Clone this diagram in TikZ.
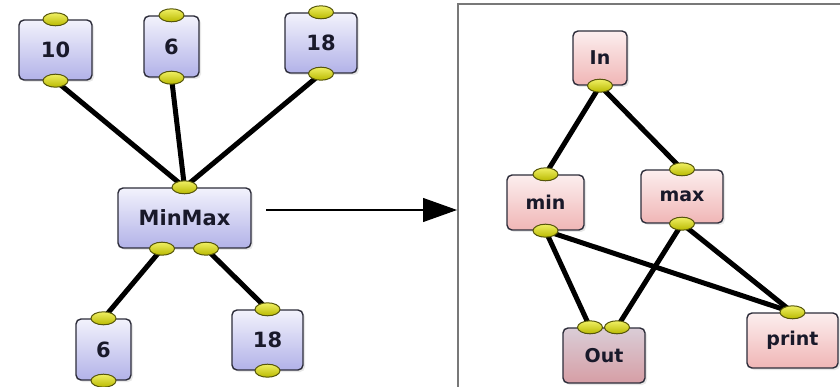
\documentclass[tikz,border=0pt]{standalone}
\usepackage{fontspec}
\setmainfont{DejaVu Sans}
\usetikzlibrary{arrows.meta,shadows,shapes.geometric}
\definecolor{boxline}{RGB}{45,45,58}
\definecolor{txt}{RGB}{25,25,42}
\definecolor{blueTop}{RGB}{242,242,252}
\definecolor{blueBot}{RGB}{178,178,232}
\definecolor{pinkTop}{RGB}{252,238,238}
\definecolor{pinkBot}{RGB}{240,182,182}
\definecolor{outTop}{RGB}{218,205,215}
\definecolor{outBot}{RGB}{214,158,165}
\definecolor{portTop}{RGB}{240,240,100}
\definecolor{portBot}{RGB}{185,185,0}
\definecolor{portLine}{RGB}{85,85,10}
\definecolor{frameGray}{RGB}{120,120,120}
\pgfdeclarelayer{bg}
\pgfdeclarelayer{edges}
\pgfsetlayers{bg,edges,main}
\tikzset{
  box/.style={rounded corners=5pt, draw=boxline, line width=1.4pt, inner sep=0pt,
    text=txt, font=\bfseries\fontsize{21}{21}\selectfont,
    drop shadow={shadow xshift=2pt, shadow yshift=-2pt, opacity=0.18, fill=gray}},
  bluebox/.style={box, top color=blueTop, bottom color=blueBot},
  pinkbox/.style={box, top color=pinkTop, bottom color=pinkBot, font=\bfseries\fontsize{19}{19}\selectfont},
  outbox/.style={box, top color=outTop, bottom color=outBot, font=\bfseries\fontsize{19}{19}\selectfont},
  port/.style={ellipse, minimum width=25pt, minimum height=13pt, inner sep=0pt,
    draw=portLine, line width=1pt, top color=portTop, bottom color=portBot},
  wire/.style={line width=5pt, black},
}
\begin{document}
\begin{tikzpicture}[x=1pt,y=-1pt]
\useasboundingbox (0,0) rectangle (840,387);
% frame
\draw[frameGray, line width=2pt] (458,388) -- (458,4) -- (841,4);
\begin{pgfonlayer}{bg}
\node[bluebox, minimum width=73pt, minimum height=60pt] (n10) at (55.5,50) {10};
\node[bluebox, minimum width=55pt, minimum height=61pt] (n6) at (171.5,46.5) {6};
\node[bluebox, minimum width=72pt, minimum height=60pt] (n18) at (321,43) {18};
\node[bluebox, minimum width=133pt, minimum height=60pt] (mm) at (184.5,218) {MinMax};
\node[bluebox, minimum width=55pt, minimum height=61pt] (o6) at (103.5,349.5) {6};
\node[bluebox, minimum width=71pt, minimum height=60pt] (o18) at (267.5,340) {18};
\node[pinkbox, minimum width=54pt, minimum height=54pt] (in) at (600,58) {In};
\node[pinkbox, minimum width=77pt, minimum height=55pt] (min) at (545.5,202.5) {min};
\node[pinkbox, minimum width=82pt, minimum height=53pt] (max) at (682,196.5) {max};
\node[outbox, minimum width=82pt, minimum height=55pt] (out) at (604,355.5) {Out};
\node[pinkbox, minimum width=91pt, minimum height=55pt] (print) at (792.5,340.5) {print};
\end{pgfonlayer}
% ports
\node[port] (n10t) at (n10.north) {};
\node[port] (n10b) at (n10.south) {};
\node[port] (n6t) at (n6.north) {};
\node[port] (n6b) at (n6.south) {};
\node[port] (n18t) at (n18.north) {};
\node[port] (n18b) at (n18.south) {};
\node[port] (mmt) at (mm.north) {};
\node[port] (mmb1) at ([xshift=-22.5pt]mm.south) {};
\node[port] (mmb2) at ([xshift=21.5pt]mm.south) {};
\node[port] (o6t) at (o6.north) {};
\node[port] (o6b) at (o6.south) {};
\node[port] (o18t) at (o18.north) {};
\node[port] (o18b) at (o18.south) {};
\node[port] (inb) at (in.south) {};
\node[port] (mint) at (min.north) {};
\node[port] (minb) at (min.south) {};
\node[port] (maxt) at (max.north) {};
\node[port] (maxb) at (max.south) {};
\node[port] (outt1) at ([xshift=-14pt]out.north) {};
\node[port] (outt2) at ([xshift=13pt]out.north) {};
\node[port] (printt) at (print.north) {};
% wires
\begin{pgfonlayer}{edges}
\draw[wire] (n10b.center) -- (mmt.center);
\draw[wire] (n6b.center) -- (mmt.center);
\draw[wire] (n18b.center) -- (mmt.center);
\draw[wire] (mmb1.center) -- (o6t.center);
\draw[wire] (mmb2.center) -- (o18t.center);
\draw[wire] (inb.center) -- (mint.center);
\draw[wire] (inb.center) -- (maxt.center);
\draw[wire] (minb.center) -- (outt1.center);
\draw[wire] (minb.center) -- (printt.center);
\draw[wire] (maxb.center) -- (outt2.center);
\draw[wire] (maxb.center) -- (printt.center);
\end{pgfonlayer}
% arrow
\coordinate (astart) at (266,210);
\coordinate (tip) at (457,210);
\draw[line width=1.2pt, -{Triangle[length=34pt,width=24pt]}] (astart) -- (tip);
\end{tikzpicture}
\end{document}
